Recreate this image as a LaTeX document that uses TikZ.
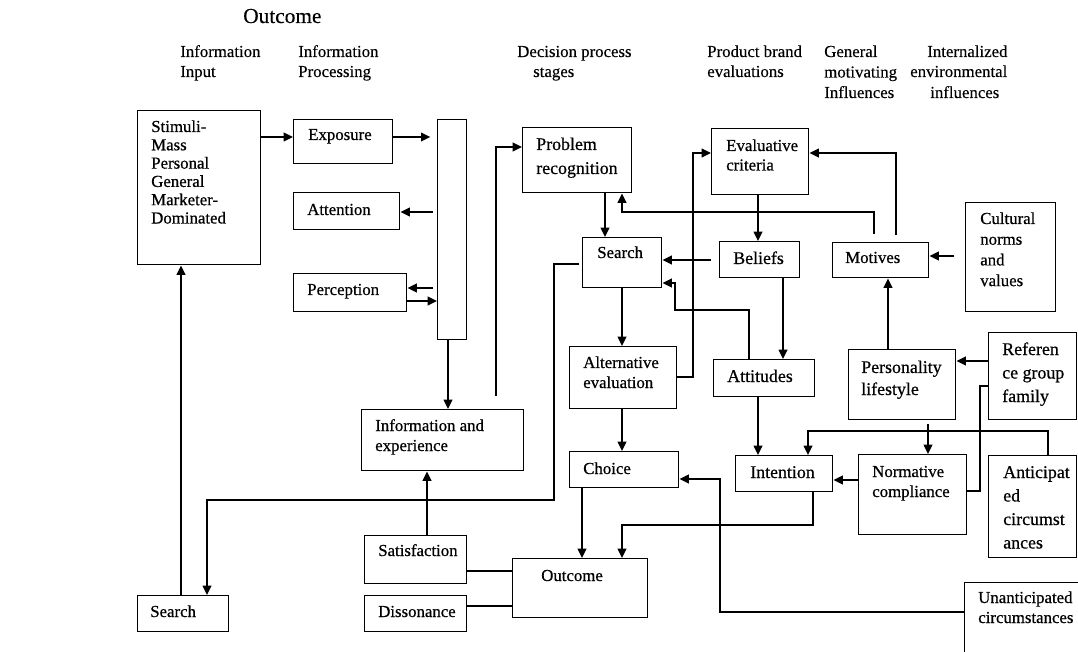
\documentclass[tikz,border=0pt]{standalone}
\usepackage{fontspec}
\setmainfont{Liberation Serif}
\newfontfamily\boxfont{Liberation Serif}[FakeBold=0.6]
\newfontfamily\headfont{Liberation Serif}[FakeBold=0.25]
\usetikzlibrary{arrows.meta}

\tikzset{
  box/.style={draw, line width=1.1pt, inner sep=0pt, anchor=north west},
  txt/.style={inner sep=0pt, anchor=base west, font=\boxfont\fontsize{12.6}{15}\selectfont},
  bigtxt/.style={txt, font=\boxfont\fontsize{13.4}{16}\selectfont},
  coltxt/.style={txt, font=\headfont\fontsize{12.6}{15}\selectfont},
  headtxt/.style={txt, font=\headfont\fontsize{16}{19}\selectfont},
  conn/.style={line width=1.1pt},
  thinconn/.style={line width=0.8pt},
  arr/.style={conn, -{Triangle[length=7pt,width=6.5pt]}},
}

% box from its top-left and bottom-right corners (pixel units)
\newcommand\putbox[5]{\node[box, minimum width={(#4-#2)*0.75pt}, minimum height={(#5-#3)*0.75pt}] (#1) at (#2,#3) {};}
% left-aligned text lines: [style] name, x, first baseline, line step, lines
\newcommand\putlines[6][txt]{\foreach \lineitem [count=\i] in {#6} {\node[#1] (#2-\i) at (#3,{#4+(\i-1)*#5}) {\lineitem};}}

\begin{document}
\begin{tikzpicture}[x=0.75pt,y=-0.75pt]
\useasboundingbox (0,0) rectangle (1078,652);
\clip (0,0) rectangle (1078,652);

% column headings
\putlines[headtxt]{hout}{243}{23}{20}{Outcome}
\putlines[coltxt]{hin}{180}{57}{20}{Information,Input}
\putlines[coltxt]{hproc}{298}{57}{20}{Information,Processing}
\putlines[coltxt]{hdec}{517}{57}{20}{Decision process}
\putlines[coltxt]{hdecb}{533}{77}{20}{stages}
\putlines[coltxt]{hprod}{707}{57}{20}{Product brand,evaluations}
\putlines[coltxt]{hgen}{824}{57}{20.5}{General,motivating,Influences}
\putlines[coltxt]{hint}{927}{57}{20}{Internalized}
\putlines[coltxt]{hintb}{910}{77}{20}{environmental}
\putlines[coltxt]{hintc}{930}{98}{20}{influences}

% boxes
\putbox{stim}{137}{110}{260}{264}
\putbox{expo}{293}{119}{392}{163}
\putbox{atten}{293}{192}{399}{229}
\putbox{percep}{293}{273}{406}{311}
\putbox{bar}{437}{119}{466}{339}
\putbox{info}{361}{409}{523}{470}
\putbox{pr}{522}{127}{631}{192}
\putbox{srch}{582}{237}{661}{287}
\putbox{ec}{711}{128}{808}{194}
\putbox{bel}{719}{241}{799}{277}
\putbox{mot}{832}{242}{928}{277}
\putbox{cult}{965}{202}{1055}{311}
\putbox{pers}{848}{349}{955}{419}
\putbox{ref}{988}{332}{1076}{419}
\putbox{ant}{988}{455}{1076}{557}
\putbox{unant}{964}{582}{1090}{670}
\putbox{alt}{569}{346}{676}{408}
\putbox{att}{713}{359}{814}{396}
\putbox{cho}{569}{451}{678}{487}
\putbox{intn}{735}{455}{832}{491}
\putbox{norm}{858}{454}{966}{534}
\putbox{sat}{364}{535}{466}{583}
\putbox{dis}{364}{595}{466}{631}
\putbox{srchb}{137}{595}{228}{631}
\putbox{out}{512}{558}{647}{617}

% box texts
\putlines{stimt}{151}{132}{18.3}{Stimuli-,Mass,Personal,General,Marketer-,Dominated}
\putlines{expot}{308}{140}{20}{Exposure}
\putlines{attent}{307}{215}{20}{Attention}
\putlines{percept}{307}{295}{20}{Perception}
\putlines{infot}{375}{431}{20}{Information and,experience}
\putlines[bigtxt]{prt}{536}{150}{24}{Problem,recognition}
\putlines{srcht}{597}{258}{20}{Search}
\putlines{ect}{726}{151}{19.5}{Evaluative,criteria}
\putlines[bigtxt]{belt}{733}{264}{20}{Beliefs}
\putlines{mott}{845}{263}{20}{Motives}
\putlines{cultt}{980}{224}{20.7}{Cultural,norms,and,values}
\putlines[bigtxt]{perst}{861}{373}{22}{Personality,lifestyle}
\putlines[bigtxt]{reft}{1002}{355}{23.5}{Referen,ce group,family}
\putlines[bigtxt]{antt}{1003}{478}{23.5}{Anticipat,ed,circumst,ances}
\putlines{unantt}{978}{603}{20}{Unanticipated,circumstances}
\putlines{altt}{583}{368}{20}{Alternative,evaluation}
\putlines[bigtxt]{attt}{727}{382}{20}{Attitudes}
\putlines{chot}{583}{474}{20}{Choice}
\putlines[bigtxt]{intnt}{750}{478}{20}{Intention}
\putlines{normt}{872}{477}{20}{Normative,compliance}
\putlines{satt}{378}{556}{20}{Satisfaction}
\putlines{dist}{378}{617}{20}{Dissonance}
\putlines{srchbt}{150}{617}{20}{Search}
\putlines{outt}{541}{581}{20}{Outcome}

% information input and processing
\draw[arr] (stim.east |- 0,137) -- (expo.west |- 0,137);
\draw[arr, shorten >=5pt] (expo.east |- 0,137) -- (bar.west |- 0,137);
\draw[arr, shorten <=3pt] (bar.west |- 0,212) -- (atten.east |- 0,212);
\draw[arr, shorten <=3pt] (bar.west |- 0,288) -- (percep.east |- 0,288);
\draw[arr] (percep.east |- 0,301) -- (bar.west |- 0,301);
\draw[arr] (448,0 |- bar.south) -- (448,0 |- info.north);
\draw[arr] (496,0 |- info.north) ++(0,-13) |- (pr.west |- 0,147);

% decision process stages
\draw[arr] (605,0 |- pr.south) -- (605,0 |- srch.north);
\draw[arr] (622,0 |- srch.south) -- (622,0 |- alt.north);
\draw[arr] (622,0 |- alt.south) -- (622,0 |- cho.north);
\draw[arr] (582,0 |- cho.south) -- (582,0 |- out.north);
\draw[arr, shorten <=2pt] (srch.west |- 0,264) -- (554,264) -- (554,500) -| (207,0 |- srchb.north);
\draw[arr] (181,0 |- srchb.north) -- (181,0 |- stim.south);
\draw[arr] (427,0 |- sat.north) -- (427,0 |- info.south);
\draw[thinconn] (sat.east |- 0,571) -- (out.west |- 0,571);
\draw[thinconn] (dis.east |- 0,606) -- (out.west |- 0,606);

% product brand evaluations
\draw[arr] (758,0 |- ec.south) -- (758,0 |- bel.north);
\draw[arr, shorten <=6pt] (bel.west |- 0,260) -- (srch.east |- 0,260);
\draw[arr] (783,0 |- bel.south) -- (783,0 |- att.north);
\draw[arr] (749,0 |- att.north) -- (749,310) -| (675,283) -- (srch.east |- 0,283);
\draw[arr] (alt.east |- 0,377) -| (693,153) -- (ec.west |- 0,153);
\draw[arr] (758,0 |- att.south) -- (758,0 |- intn.north);
\draw[arr] (813,0 |- intn.south) -- (813,525) -| (622,0 |- out.north);

% motivating and environmental influences
\draw[arr, shorten <=6pt] (874,0 |- mot.north) -- (874,212) -| (622,0 |- pr.south);
\draw[arr, shorten <=5pt] (896,0 |- mot.north) |- (ec.east |- 0,153);
\draw[arr, shorten <=8pt] (cult.west |- 0,256) -- (mot.east |- 0,256);
\draw[arr] (888,0 |- pers.north) -- (888,0 |- mot.south);
\draw[arr] (ref.west |- 0,361) -- (pers.east |- 0,361);
\draw[conn] (ref.west |- 0,386) -- (980,386) -- (980,491) -- (norm.east |- 0,491);
\draw[arr, shorten <=3pt] (928,0 |- pers.south) -- (928,0 |- norm.north);
\draw[arr] (norm.west |- 0,480) -- (intn.east |- 0,480);
\draw[arr] (1048,0 |- ant.north) -- (1048,431) -| (808,0 |- intn.north);
\draw[arr] (unant.west |- 0,612) -| (720,479) -- (cho.east |- 0,479);
\end{tikzpicture}
\end{document}
